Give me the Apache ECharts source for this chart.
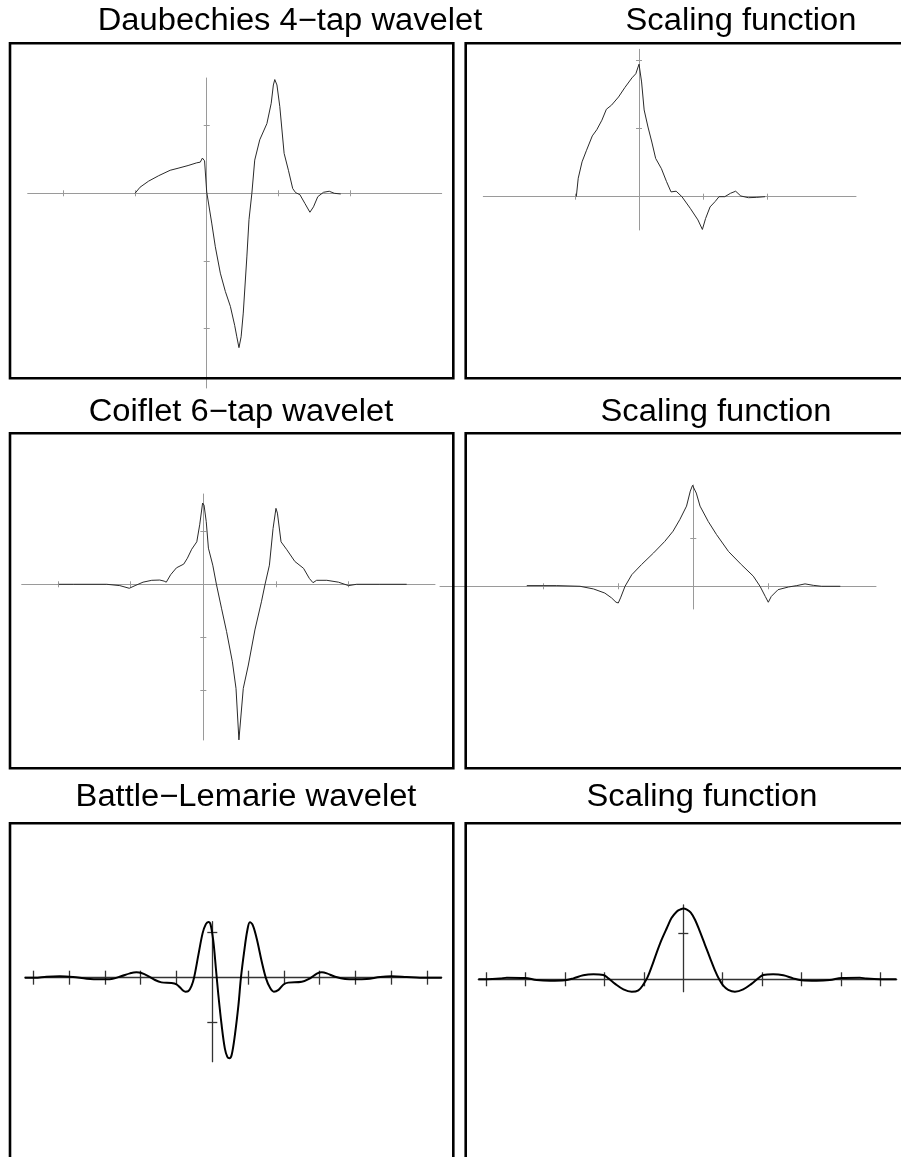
<!DOCTYPE html>
<html><head><meta charset="utf-8">
<script src="https://cdn.jsdelivr.net/npm/echarts@6/dist/echarts.min.js"></script>
<style>html,body{margin:0;padding:0;background:#fff}#c{width:901px;height:1157px}</style>
</head><body><div id="c"></div>
<script>
// ---------------- DATA ----------------
const titles = ['Daubechies 4\u2212tap wavelet', 'Scaling function',
                'Coiflet 6\u2212tap wavelet', 'Scaling function',
                'Battle\u2212Lemarie wavelet', 'Scaling function'];

// Daubechies 4-tap wavelet
const d4WaveX = [-1, -0.93, -0.81, -0.67, -0.51, -0.40, -0.26, -0.14, -0.09, -0.06, -0.03, 0.0, 0.07, 0.12, 0.19, 0.26, 0.33, 0.39, 0.42, 0.45, 0.48, 0.51, 0.56, 0.59, 0.63, 0.67, 0.74, 0.84, 0.90, 0.93, 0.95, 0.98, 1.02, 1.08, 1.14, 1.20, 1.24, 1.30, 1.37, 1.44, 1.49, 1.55, 1.63, 1.71, 1.78, 1.87];
const d4WaveY = [0, 0.09, 0.18, 0.26, 0.34, 0.37, 0.41, 0.45, 0.46, 0.52, 0.48, 0.02, -0.44, -0.79, -1.18, -1.45, -1.67, -1.95, -2.12, -2.28, -2.12, -1.77, -0.94, -0.39, 0, 0.49, 0.79, 1.03, 1.33, 1.60, 1.68, 1.60, 1.28, 0.59, 0.34, 0.07, 0.01, -0.02, -0.15, -0.28, -0.20, -0.05, 0.015, 0.03, 0, -0.01];
const d4WaveXTicks = [-2, -1, 1, 2];
const d4WaveYTicks = [1, -1, -2];

// Daubechies 4-tap scaling function
const d4ScaleX = [-0.98, -0.95, -0.89, -0.82, -0.73, -0.66, -0.58, -0.51, -0.43, -0.32, -0.22, -0.11, -0.05, 0, 0.04, 0.08, 0.14, 0.20, 0.26, 0.35, 0.43, 0.50, 0.58, 0.67, 0.80, 0.92, 0.99, 1.04, 1.11, 1.19, 1.25, 1.34, 1.43, 1.51, 1.59, 1.71, 1.84, 1.97];
const d4ScaleY = [0, 0.27, 0.51, 0.68, 0.89, 0.98, 1.12, 1.28, 1.34, 1.46, 1.60, 1.74, 1.80, 1.94, 1.68, 1.27, 1.02, 0.80, 0.56, 0.41, 0.22, 0.07, 0.08, 0, -0.17, -0.34, -0.48, -0.32, -0.15, -0.07, 0, 0, 0.05, 0.08, 0.01, -0.015, -0.01, 0];
const d4ScaleXTicks = [-1, 1, 2];
const d4ScaleYTicks = [2, 1];

// Coiflet 6-tap wavelet
const coifWaveX = [-1.99, -1.79, -1.33, -1.15, -1.02, -0.94, -0.83, -0.71, -0.60, -0.54, -0.51, -0.45, -0.37, -0.27, -0.22, -0.16, -0.09, -0.05, -0.01, 0.01, 0.04, 0.07, 0.13, 0.18, 0.25, 0.32, 0.40, 0.45, 0.49, 0.55, 0.62, 0.71, 0.80, 0.85, 0.91, 0.96, 1.0, 1.02, 1.07, 1.15, 1.26, 1.38, 1.46, 1.51, 1.56, 1.70, 1.86, 2.00, 2.11, 2.43, 2.80];
const coifWaveY = [0, 0, 0, -0.025, -0.075, -0.025, 0.04, 0.075, 0.08, 0.06, 0.04, 0.18, 0.31, 0.38, 0.49, 0.66, 0.80, 1.12, 1.53, 1.49, 1.18, 0.68, 0.36, 0, -0.45, -0.89, -1.46, -1.96, -2.93, -1.96, -1.52, -0.86, -0.33, 0, 0.36, 1.05, 1.43, 1.34, 0.80, 0.65, 0.43, 0.30, 0.11, 0.03, 0.075, 0.075, 0.04, -0.025, 0, 0, 0];
const coifWaveXTicks = [-2, -1, 1, 2];
const coifWaveYTicks = [1, -1, -2];

// Coiflet 6-tap scaling function
const coifScaleX = [-2.22, -2.0, -1.82, -1.51, -1.33, -1.18, -1.09, -1.03, -1.00, -0.97, -0.91, -0.82, -0.69, -0.53, -0.38, -0.27, -0.18, -0.09, -0.04, -0.01, 0.01, 0.04, 0.09, 0.20, 0.31, 0.47, 0.64, 0.80, 0.89, 0.96, 1.00, 1.04, 1.13, 1.27, 1.38, 1.49, 1.60, 1.71, 1.96];
const coifScaleY = [0.014, 0.014, 0.014, 0, -0.055, -0.14, -0.24, -0.33, -0.345, -0.24, 0, 0.24, 0.45, 0.69, 0.93, 1.14, 1.38, 1.66, 1.97, 2.09, 2.09, 1.93, 1.66, 1.34, 1.07, 0.72, 0.45, 0.21, 0, -0.21, -0.33, -0.21, -0.07, -0.014, 0.014, 0.05, 0.02, 0, 0];
const coifScaleXTicks = [-2, -1, 1];
const coifScaleYTicks = [1];

// Battle-Lemarie wavelet
const blWaveX = [-5.24, -4.96, -4.63, -4.26, -3.89, -3.51, -3.14, -2.81, -2.53, -2.30, -2.12, -1.98, -1.79, -1.60, -1.42, -1.14, -1.0, -0.90, -0.81, -0.75, -0.67, -0.58, -0.51, -0.39, -0.27, -0.18, -0.11, -0.05, 0.03, 0.10, 0.17, 0.26, 0.35, 0.42, 0.48, 0.54, 0.63, 0.73, 0.80, 0.89, 0.98, 1.05, 1.13, 1.24, 1.38, 1.50, 1.61, 1.72, 1.85, 1.99, 2.12, 2.50, 2.73, 2.92, 3.06, 3.20, 3.43, 3.71, 3.99, 4.31, 4.69, 5.01, 5.43, 5.80, 6.41];
const blWaveY = [0, 0, 0.022, 0.03, 0.015, -0.022, -0.037, -0.03, 0.037, 0.096, 0.12, 0.104, 0.037, -0.052, -0.104, -0.12, -0.15, -0.22, -0.29, -0.31, -0.30, -0.18, 0, 0.50, 0.99, 1.19, 1.24, 1.19, 0.80, 0.21, -0.39, -1.05, -1.57, -1.76, -1.79, -1.72, -1.28, -0.61, 0, 0.58, 1.06, 1.23, 1.17, 0.87, 0.36, -0.015, -0.22, -0.31, -0.27, -0.15, -0.11, -0.09, -0.015, 0.09, 0.12, 0.096, 0.022, -0.03, -0.037, -0.03, 0.015, 0.03, 0.015, 0, 0];
const blWaveXTicks = [-5, -4, -3, -2, -1, 1, 2, 3, 4, 5, 6];
const blWaveYTicks = [1, -1];

// Battle-Lemarie scaling function
const blScaleX = [-5.2, -5.0, -4.65, -4.48, -4.02, -3.72, -3.38, -3.0, -2.79, -2.54, -2.28, -2.03, -1.90, -1.73, -1.52, -1.31, -1.14, -1.02, -0.91, -0.80, -0.68, -0.55, -0.42, -0.30, -0.17, -0.07, 0, 0.08, 0.19, 0.30, 0.42, 0.55, 0.68, 0.80, 0.91, 1.02, 1.14, 1.31, 1.52, 1.73, 1.90, 2.03, 2.28, 2.54, 2.79, 3.0, 3.38, 3.72, 4.02, 4.48, 4.65, 5.0, 5.41];
const blScaleY = [0, 0, 0.015, 0.036, 0.03, -0.015, -0.03, -0.02, 0.02, 0.087, 0.109, 0.094, 0.02, -0.10, -0.22, -0.27, -0.24, -0.12, 0.04, 0.28, 0.57, 0.86, 1.11, 1.33, 1.47, 1.52, 1.54, 1.52, 1.45, 1.29, 1.04, 0.75, 0.46, 0.20, 0, -0.145, -0.23, -0.27, -0.22, -0.10, 0.02, 0.094, 0.109, 0.087, 0.02, -0.02, -0.03, -0.015, 0.03, 0.036, 0.015, 0, 0];
const blScaleXTicks = [-5, -4, -3, -2, -1, 1, 2, 3, 4, 5];
const blScaleYTicks = [1];

// ---------------- LAYOUT / STYLE ----------------
const panels = [
  {x: d4WaveX, y: d4WaveY, xt: d4WaveXTicks, yt: d4WaveYTicks},
  {x: d4ScaleX, y: d4ScaleY, xt: d4ScaleXTicks, yt: d4ScaleYTicks},
  {x: coifWaveX, y: coifWaveY, xt: coifWaveXTicks, yt: coifWaveYTicks},
  {x: coifScaleX, y: coifScaleY, xt: coifScaleXTicks, yt: coifScaleYTicks},
  {x: blWaveX, y: blWaveY, xt: blWaveXTicks, yt: blWaveYTicks},
  {x: blScaleX, y: blScaleY, xt: blScaleXTicks, yt: blScaleYTicks}
];
const layouts = [
  {left: 27.7, top: 78, width: 414, height: 310, xMin: -2.498, xMax: 3.279, yMin: -2.876, yMax: 1.703, bold: false},
  {left: 483.3, top: 49.3, width: 372.7, height: 180.7, xMin: -2.433, xMax: 3.39, yMin: -0.488, yMax: 2.158, bold: false},
  {left: 21.7, top: 494, width: 413.3, height: 246, xMin: -2.501, xMax: 3.19, yMin: -2.932, yMax: 1.70, bold: false},
  {left: 440, top: 485, width: 436, height: 124, xMin: -3.377, xMax: 2.436, yMin: -0.470, yMax: 2.097, bold: false},
  {left: 25, top: 921.7, width: 416.7, height: 140, xMin: -5.232, xMax: 6.408, yMin: -1.867, yMax: 1.244, bold: true},
  {left: 478.3, top: 905, width: 418.4, height: 86.7, xMin: -5.203, xMax: 5.416, yMin: -0.270, yMax: 1.615, bold: true}
];
const titlePos = [[290, 21], [741, 21], [241, 412], [716, 412], [246, 797], [702, 797]];
const boxes = [[10, 43.3, 443.3, 335], [465.7, 43.3, 460, 335],
               [10, 433.3, 443.3, 335], [465.7, 433.3, 460, 335],
               [10, 823.3, 443.3, 400], [465.7, 823.3, 460, 400]];

// ---------------- BUILD ----------------
const grid = [], xAxis = [], yAxis = [], series = [], graphic = [];
panels.forEach((p, i) => {
  const L = layouts[i];
  grid.push({left: L.left, top: L.top, width: L.width, height: L.height});
  const axColor = L.bold ? '#333' : '#9a9a9a';
  const axW = L.bold ? 1.3 : 1;
  const xLen = L.bold ? 7 : 3, yLen = L.bold ? 5 : 3;
  ['bottom', 'top'].forEach((pos, k) => {
    xAxis.push({
      type: 'value', gridIndex: i, position: pos, min: L.xMin, max: L.xMax,
      axisLine: {show: k === 0, onZero: true, onZeroAxisIndex: 2 * i, lineStyle: {color: axColor, width: axW}},
      axisTick: {show: true, customValues: p.xt, length: xLen, lineStyle: {color: axColor, width: axW}},
      axisLabel: {show: false}, splitLine: {show: false}
    });
  });
  ['left', 'right'].forEach((pos, k) => {
    yAxis.push({
      type: 'value', gridIndex: i, position: pos, min: L.yMin, max: L.yMax,
      axisLine: {show: k === 0, onZero: true, onZeroAxisIndex: 2 * i, lineStyle: {color: axColor, width: axW}},
      axisTick: {show: true, customValues: p.yt, length: yLen, lineStyle: {color: axColor, width: axW}},
      axisLabel: {show: false}, splitLine: {show: false}
    });
  });
  series.push({
    type: 'line', xAxisIndex: 2 * i, yAxisIndex: 2 * i,
    data: p.x.map((v, j) => [v, p.y[j]]),
    showSymbol: false, symbol: 'none', silent: true, clip: false,
    smooth: L.bold ? 0.35 : false,
    lineStyle: {color: L.bold ? '#000' : '#2a2a2a', width: L.bold ? 2 : 1},
    z: 3
  });
  graphic.push({type: 'rect', shape: {x: boxes[i][0], y: boxes[i][1], width: boxes[i][2], height: boxes[i][3]},
    style: {fill: 'none', stroke: '#000', lineWidth: 2.6}, silent: true, z: 1});
  graphic.push({type: 'text', x: titlePos[i][0], y: titlePos[i][1], scaleX: 1.055,
    style: {text: titles[i], fontSize: 31, fontFamily: '"Liberation Sans", Arial, Helvetica, sans-serif',
      fill: '#000', align: 'center', verticalAlign: 'middle'}, silent: true});
});

const chart = echarts.init(document.getElementById('c'), null, {renderer: 'canvas'});
chart.setOption({animation: false, backgroundColor: '#fff', grid, xAxis, yAxis, series, graphic});
</script>
</body></html>
